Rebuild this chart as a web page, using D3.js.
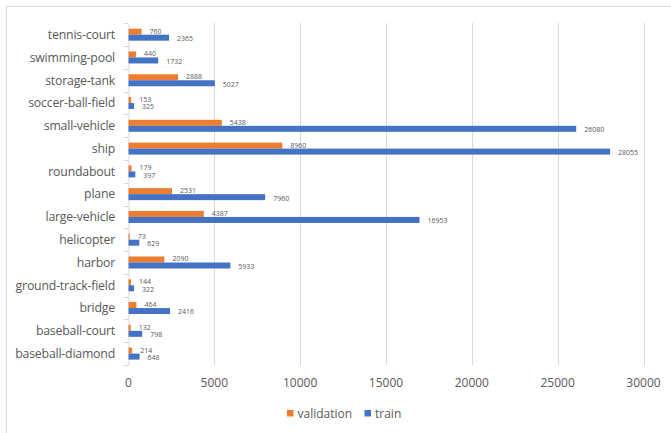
<html>
<head>
<script src="https://d3js.org/d3.v7.min.js"></script>
<style>
  body { margin: 0; background: #fff; }
  text { font-family: "Open Sans", sans-serif; }
</style>
</head>
<body>
<div id="container"></div>
<script>
var categories = ["tennis-court", "swimming-pool", "storage-tank", "soccer-ball-field", "small-vehicle", "ship", "roundabout", "plane", "large-vehicle", "helicopter", "harbor", "ground-track-field", "bridge", "baseball-court", "baseball-diamond"]
var validation = [760, 440, 2888, 153, 5438, 8960, 179, 2531, 4387, 73, 2090, 144, 464, 132, 214]
var train = [2365, 1732, 5027, 325, 26080, 28055, 397, 7960, 16953, 629, 5933, 322, 2416, 798, 648]
var seriesNames = ["validation", "train"]
var xTicks = [0, 5000, 10000, 15000, 20000, 25000, 30000]

var colors = { validation: "#ED7D31", train: "#4472C4" }
var W = 671, H = 433

var svg = d3.select("#container").append("svg")
  .attr("width", W)
  .attr("height", H)

// chart border (runs off right and bottom like the original)
svg.append("rect")
  .attr("x", 6.5).attr("y", 6.5)
  .attr("width", W + 10).attr("height", H + 10)
  .attr("fill", "none")
  .attr("stroke", "#d9d9d9")

var x = d3.scaleLinear().domain([0, 30000]).range([128.5, 643.5])
var y = d3.scaleBand().domain(categories).range([23.3, 365])
var ySub = d3.scaleBand().domain(seriesNames).range([0, y.bandwidth()]).paddingOuter(0.9)

// gridlines
svg.append("g").selectAll("line")
  .data(xTicks.slice(1))
  .enter().append("line")
  .attr("x1", function(d){ return Math.round(x(d)) + 0.5 })
  .attr("x2", function(d){ return Math.round(x(d)) + 0.5 })
  .attr("y1", 23).attr("y2", 365)
  .attr("stroke", "#d9d9d9")
  .attr("stroke-width", 1)

// x tick labels
svg.append("g").selectAll("text")
  .data(xTicks)
  .enter().append("text")
  .attr("x", function(d){ return x(d) })
  .attr("y", 387)
  .attr("text-anchor", "middle")
  .attr("font-size", 12)
  .attr("fill", "#595959")
  .text(function(d){ return d })

// y axis line + ticks
var yAxis = d3.axisLeft(y).tickSize(0).tickFormat("")
var ag = svg.append("g").attr("transform", "translate(128.5,0)").call(yAxis)
ag.select(".domain").attr("stroke", "#d9d9d9")
var edges = categories.map(function(c){ return y(c) }).concat([y.range()[1]])
ag.selectAll(".edge").data(edges).enter().append("line")
  .attr("x1", -5).attr("x2", 0)
  .attr("y1", function(d){ return Math.round(d) + 0.5 })
  .attr("y2", function(d){ return Math.round(d) + 0.5 })
  .attr("stroke", "#d9d9d9")

// category labels
svg.append("g").selectAll("text")
  .data(categories)
  .enter().append("text")
  .attr("x", 115)
  .attr("y", function(d){ return y(d) + y.bandwidth() / 2 })
  .attr("dy", "0.35em")
  .attr("text-anchor", "end")
  .attr("font-size", 12.3)
  .attr("letter-spacing", -0.2)
  .attr("fill", "#595959")
  .text(function(d){ return d })

// bars
var rows = categories.map(function(c, i){
  return { cat: c, values: [{ s: "validation", v: validation[i] }, { s: "train", v: train[i] }] }
})

var groups = svg.append("g").selectAll("g")
  .data(rows)
  .enter().append("g")
  .attr("transform", function(d){ return "translate(0," + y(d.cat) + ")" })

groups.selectAll("rect")
  .data(function(d){ return d.values })
  .enter().append("rect")
  .attr("x", x(0))
  .attr("y", function(d){ return ySub(d.s) })
  .attr("width", function(d){ return x(d.v) - x(0) })
  .attr("height", ySub.bandwidth())
  .attr("fill", function(d){ return colors[d.s] })

groups.selectAll("text")
  .data(function(d){ return d.values })
  .enter().append("text")
  .attr("x", function(d){ return x(d.v) + 8 })
  .attr("y", function(d){ return ySub(d.s) + ySub.bandwidth() / 2 + (d.s == "validation" ? -0.5 : 1) })
  .attr("dy", "0.35em")
  .attr("font-size", 7)
  .attr("fill", "#595959")
  .text(function(d){ return d.v })

// legend
var legend = svg.append("g").selectAll("g")
  .data([{ s: "validation", x: 287 }, { s: "train", x: 364.5 }])
  .enter().append("g")
  .attr("transform", function(d){ return "translate(" + d.x + ",410)" })
legend.append("rect")
  .attr("width", 6.5).attr("height", 6.5)
  .attr("fill", function(d){ return colors[d.s] })
legend.append("text")
  .attr("x", 10.5).attr("y", 7.5)
  .attr("font-size", 12)
  .attr("fill", "#595959")
  .text(function(d){ return d.s })
</script>
</body>
</html>
